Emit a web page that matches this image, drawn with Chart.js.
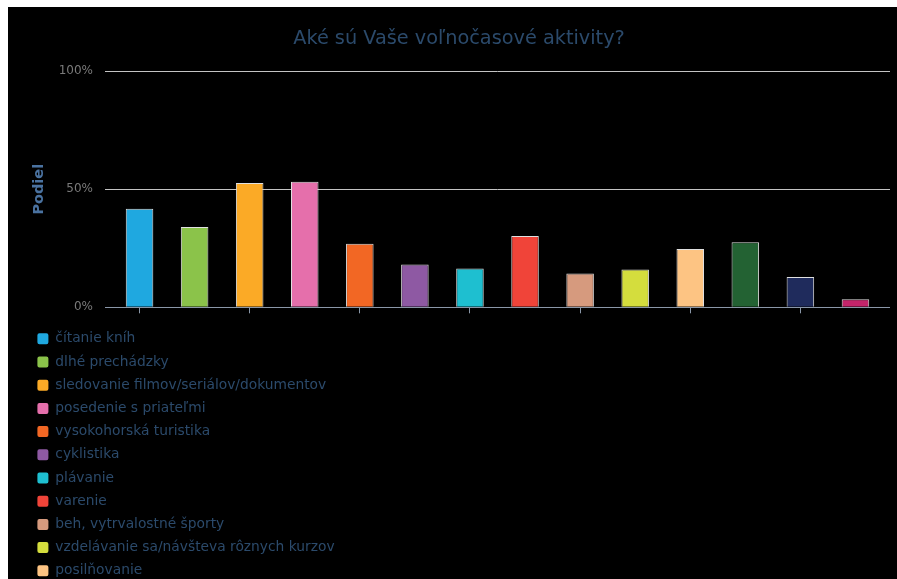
<!DOCTYPE html>
<html>
<head>
<meta charset="utf-8">
<script src="https://cdn.jsdelivr.net/npm/chart.js@4/dist/chart.umd.min.js"></script>
<style>
  html, body { margin: 0; padding: 0; background: #ffffff; overflow: hidden; width: 897px; height: 579px; }
  #wrap { position: absolute; left: 8px; top: 7px; width: 889px; height: 621px; background: #000000; }
  canvas { display: block; }
</style>
</head>
<body>
<div id="wrap"><canvas id="c" width="889" height="621"></canvas></div>
<script>
const titleText = 'Aké sú Vaše voľnočasové aktivity?';
const axisTitle = 'Podiel';
const categories = [
  'čítanie kníh',
  'dlhé prechádzky',
  'sledovanie filmov/seriálov/dokumentov',
  'posedenie s priateľmi',
  'vysokohorská turistika',
  'cyklistika',
  'plávanie',
  'varenie',
  'beh, vytrvalostné športy',
  'vzdelávanie sa/návšteva rôznych kurzov',
  'posilňovanie',
  'záhradkárčenie',
  'počítačové hry',
  'iné'
];
const shares = [41.7, 34.0, 52.6, 53.2, 26.9, 18.1, 16.4, 30.2, 14.3, 16.0, 24.7, 27.5, 12.8, 3.4];
const colors = ['#1fa8e0', '#8bc34a', '#fbaa26', '#e56fab', '#f26724', '#8e59a3', '#1ebfd0',
                '#f04439', '#d69a7e', '#d4dd3d', '#fdc483', '#236233', '#1f2b5c', '#c4246a'];
const yTicks = [0, 50, 100];

const FONT = '"DejaVu Sans", "Liberation Sans", sans-serif';
const baseColor = '#8a97a8';
const gridColor = '#c4c4c4';
const textBlue = '#2b4a6b';

new Chart(document.getElementById('c'), {
  type: 'bar',
  data: {
    labels: categories,
    datasets: [{
      data: shares,
      backgroundColor: colors,
      borderColor: '#e0e0e0',
      borderWidth: 1,
      barPercentage: 1,
      categoryPercentage: 0.5
    }]
  },
  options: {
    responsive: false,
    maintainAspectRatio: false,
    animation: false,
    layout: { padding: { top: 10, left: 20, right: 7, bottom: 0 } },
    plugins: {
      tooltip: { enabled: false },
      title: {
        display: true,
        text: titleText,
        color: textBlue,
        font: { family: FONT, size: 19.3, weight: 'normal' },
        padding: { top: 10, bottom: 21 }
      },
      legend: {
        display: true,
        position: 'bottom',
        align: 'start',
        labels: {
          color: textBlue,
          font: { family: FONT, size: 13.8 },
          boxWidth: 11,
          boxHeight: 11,
          padding: 9.4,
          useBorderRadius: true,
          borderRadius: 2,
          generateLabels: (chart) => categories.map((c, i) => ({
            text: c + ' '.repeat(200),
            fillStyle: colors[i],
            strokeStyle: colors[i],
            lineWidth: 0,
            borderRadius: 2,
            fontColor: textBlue,
            hidden: false,
            index: i
          }))
        }
      }
    },
    scales: {
      x: {
        type: 'category',
        offset: true,
        border: { display: true, color: baseColor, width: 1 },
        grid: {
          display: true,
          offset: false,
          drawOnChartArea: false,
          drawTicks: true,
          tickLength: 6,
          tickColor: (ctx) => (ctx.index % 2 === 0 ? baseColor : 'rgba(0,0,0,0)')
        },
        ticks: {
          display: true,
          autoSkip: false,
          maxRotation: 0,
          padding: 4,
          font: { size: 1 },
          callback: () => ''
        }
      },
      y: {
        type: 'linear',
        position: 'left',
        min: 0,
        max: 100,
        afterBuildTicks: (s) => { s.ticks = yTicks.map(v => ({ value: v })); },
        afterFit: (s) => { s.width = 84; },
        border: { display: false },
        grid: {
          color: (ctx) => (ctx.tick && ctx.tick.value === 0 ? baseColor : gridColor),
          tickColor: (ctx) => (ctx.tick && ctx.tick.value === 0 ? baseColor : gridColor),
          tickLength: 7,
          lineWidth: 1
        },
        ticks: {
          color: '#7a7a7a',
          padding: 12,
          font: { family: FONT, size: 12 },
          callback: (v) => v + '%'
        },
        title: {
          display: true,
          text: axisTitle,
          color: '#4a72a0',
          font: { family: FONT, size: 14.5, weight: 'bold' },
          padding: { top: 3, bottom: 4 }
        }
      },
      y2: {
        type: 'linear',
        position: 'right',
        min: 0,
        max: 100,
        afterBuildTicks: (s) => { s.ticks = yTicks.map(v => ({ value: v })); },
        border: { display: false },
        grid: {
          drawOnChartArea: false,
          tickLength: 7,
          tickColor: (ctx) => (ctx.tick && ctx.tick.value === 0 ? baseColor : gridColor)
        },
        ticks: { display: false }
      }
    }
  }
});
</script>
</body>
</html>
